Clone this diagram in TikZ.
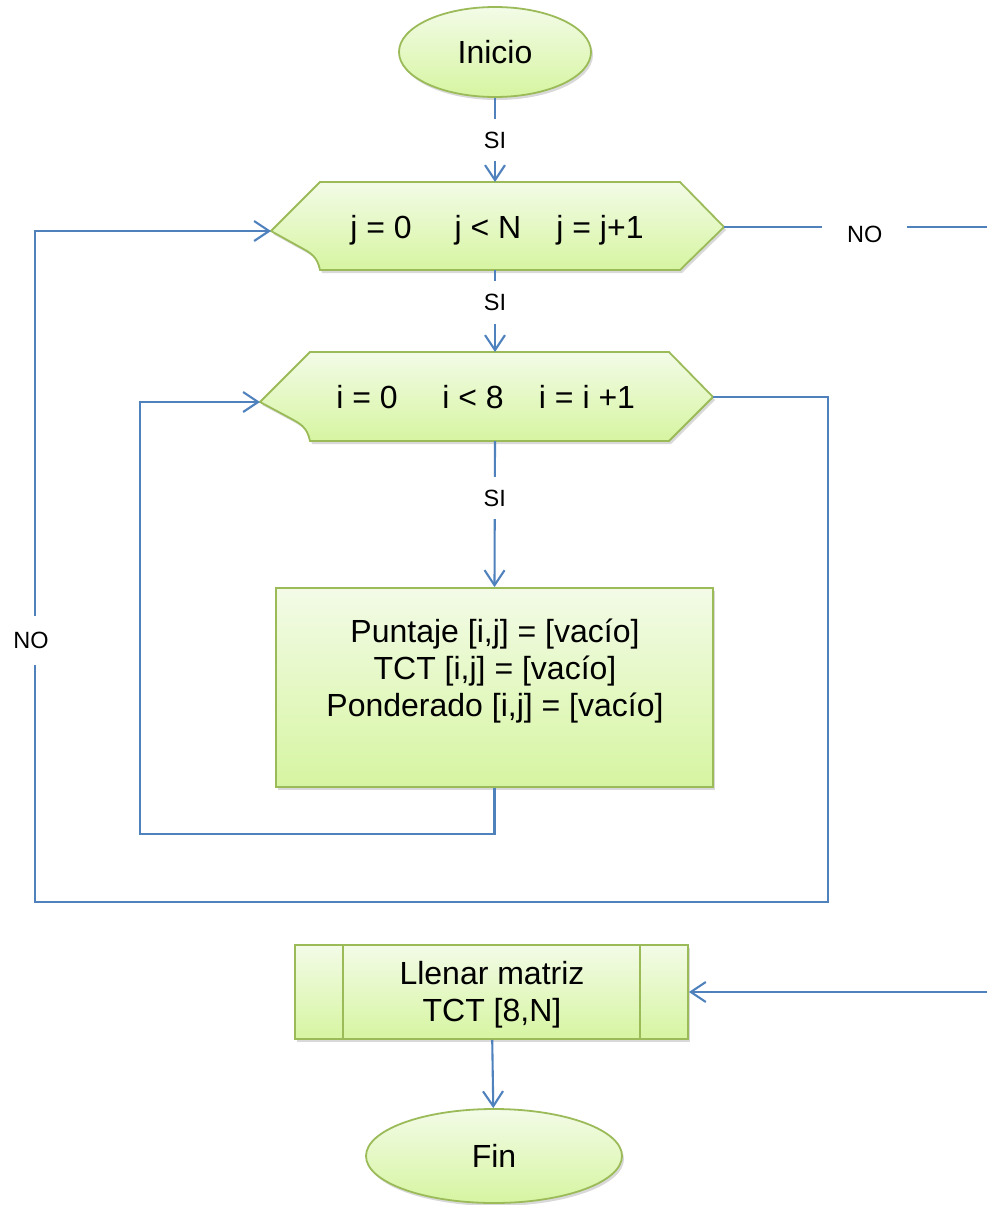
\documentclass[tikz,border=0pt]{standalone}
\usepackage{fontspec}
\setmainfont{Liberation Sans}
\usetikzlibrary{arrows.meta,shapes.geometric,shadows}
\definecolor{flowblue}{HTML}{4F81BD}
\definecolor{shapeedge}{HTML}{9BBB59}
\definecolor{filltop}{HTML}{F3FBE7}
\definecolor{fillbot}{HTML}{D6F5A1}
\newcommand\bigtext{\fontsize{32}{37}\selectfont}
\newcommand\smalltext{\fontsize{23.5}{27}\selectfont}
\tikzset{
  conn/.style={draw=flowblue, line width=2.1pt},
  arr/.style={-{Straight Barb[length=15pt,width=20pt]}},
  greenfill/.style={draw=shapeedge, line width=1.8pt, top color=filltop, bottom color=fillbot,
    drop shadow={opacity=0.3, shadow xshift=2pt, shadow yshift=-3pt}},
  terminal/.style={greenfill, ellipse, inner sep=0pt, font=\bigtext},
  lbl/.style={fill=white, font=\smalltext, inner xsep=3pt, inner ysep=13pt},
  bigtxt/.style={font=\bigtext},
}
\begin{document}
\begin{tikzpicture}[x=1pt,y=-1pt]
\useasboundingbox (0,0) rectangle (986,1205);

% start terminal
\node[terminal, minimum width=192pt, minimum height=90pt] (ini) at (495,52) {Inicio};

% outer loop header (j)
\path[greenfill] (271,231) -- (320,182) -- (680,182) -- (724,227) -- (680,270) -- (320,270)
  .. controls (317,256) and (311,253) .. (298,246) -- cycle;
\coordinate (h1w) at (271,231);
\coordinate (h1n) at (495,182);
\coordinate (h1e) at (724,227);
\coordinate (h1s) at (495,270);
\node[bigtxt, anchor=base] (j1) at (381,238) {j = 0};
\node[bigtxt, anchor=base] (j2) at (488,238) {j < N};
\node[bigtxt, anchor=base] (j3) at (600,238) {j = j+1};

% inner loop header (i)
\path[greenfill] (260,402) -- (310,352) -- (669,352) -- (713,397) -- (669,441) -- (310,441)
  .. controls (307,427) and (301,424) .. (288,417) -- cycle;
\coordinate (h2w) at (260,402);
\coordinate (h2n) at (495,352);
\coordinate (h2e) at (713,397);
\coordinate (h2s) at (495,441);
\node[bigtxt, anchor=base] (i1) at (367,408) {i = 0};
\node[bigtxt, anchor=base] (i2) at (473,408) {i < 8};
\node[bigtxt, anchor=base] (i3) at (587,408) {i = i +1};

% loop body
\node[greenfill, rectangle, minimum width=437pt, minimum height=199pt, inner sep=0pt] (proc) at (494.5,687.5) {};
\node[bigtxt, align=center] (proctext) at (495,671)
  {Puntaje [i,j] = [vacío]\\TCT [i,j] = [vacío]\\Ponderado [i,j] = [vacío]};

% predefined process
\node[greenfill, rectangle, minimum width=393pt, minimum height=94pt, inner sep=0pt] (llenar) at (491.5,992) {};
\node[bigtxt, align=center] (llenartext) at (492,995) {Llenar matriz\\TCT [8,N]};
\draw[shapeedge, line width=1.8pt] ([xshift=49pt]llenar.north west) -- ([xshift=49pt]llenar.south west);
\draw[shapeedge, line width=1.8pt] ([xshift=-49pt]llenar.north east) -- ([xshift=-49pt]llenar.south east);

% end terminal
\node[terminal, minimum width=256pt, minimum height=94pt] (fin) at (494,1156) {Fin};

% connectors
\draw[conn,arr] (ini) -- node[lbl]{SI} (h1n);
\draw[conn,arr] (h1s) -- node[lbl,pos=0.4]{SI} (h2n);
\draw[conn,arr] (h2s) -- node[lbl,pos=0.39]{SI} (proc.north);

\coordinate (innerc) at (140,834);
\draw[conn,arr] (proc.south) |- (innerc) |- (h2w);

\coordinate (outer1) at (828,902);
\coordinate (outer2) at (35,902);
\coordinate (outer3) at (35,231);
\draw[conn,arr] (h2e) -| (outer1) -- (outer2)
  -- node[lbl,pos=0.39,xshift=-4pt,inner ysep=16pt]{NO} (outer3) -- (h1w);

\coordinate (offright) at (1000,227);
\draw[conn,arr] (h1e) -- node[lbl,pos=0.51,inner xsep=25pt,inner ysep=5pt,yshift=-7pt]{NO} (offright)
  |- (llenar.east);

\draw[conn,arr] (llenar) -- (fin);
\end{tikzpicture}
\end{document}
